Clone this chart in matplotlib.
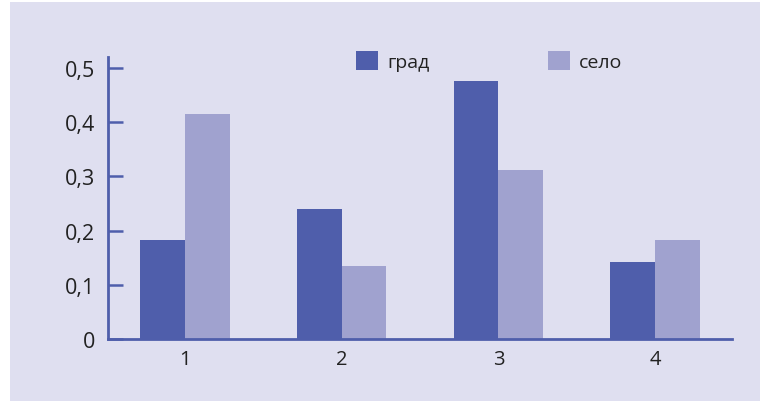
import numpy as np
import matplotlib.pyplot as plt
from matplotlib.patches import Rectangle

plt.rcParams['font.family'] = ['Open Sans', 'DejaVu Sans']

categories = ['1', '2', '3', '4']
grad = [0.183, 0.240, 0.476, 0.142]
selo = [0.415, 0.135, 0.312, 0.183]
yticks = [0, 0.1, 0.2, 0.3, 0.4, 0.5]
ytick_labels = ['0', '0,1', '0,2', '0,3', '0,4', '0,5']

dark = '#4f5eab'
light = '#a0a2cf'
bg = '#dfdff0'
text_col = '#222222'

fig = plt.figure(figsize=(7.6, 4.02), dpi=100, facecolor='white')
fig.patches.append(Rectangle((10 / 760, 0), 1, 399 / 402, transform=fig.transFigure,
                             facecolor=bg, edgecolor='none', zorder=-10))

ax = fig.add_axes([108 / 760, 1 - 340 / 402, (732 - 108) / 760, (340 - 58) / 402])
ax.set_facecolor('none')

x = np.arange(1, len(categories) + 1)
w = 0.286
b1 = ax.bar(x - w / 2, grad, w, color=dark, label='град', zorder=2)
b2 = ax.bar(x + w / 2, selo, w, color=light, label='село', zorder=2)

ax.set_xlim(0.51, 4.49)
ax.set_ylim(0, 0.52)

for s in ['top', 'right']:
    ax.spines[s].set_visible(False)
for s in ['left', 'bottom']:
    ax.spines[s].set_color(dark)
    ax.spines[s].set_linewidth(2)
    ax.spines[s].set_zorder(3)

ax.set_yticks(yticks)
ax.set_yticklabels(ytick_labels)
ax.tick_params(axis='y', direction='in', length=11, width=1.8, color=dark,
               pad=9, labelsize=15.5, labelcolor=text_col)
ax.set_xticks(x)
ax.set_xticklabels(categories)
ax.tick_params(axis='x', length=0, pad=7, labelsize=14.5, labelcolor=text_col)

fig.legend(handles=[b1, b2], loc='center left',
           bbox_to_anchor=(356 / 760, 1 - 62 / 402), ncol=2, frameon=False,
           fontsize=14, handlelength=1.15, handleheight=1.15, handletextpad=0.45,
           columnspacing=6.1, borderpad=0, borderaxespad=0, labelcolor=text_col)

fig.savefig('out.png', dpi=100, facecolor=fig.get_facecolor())
